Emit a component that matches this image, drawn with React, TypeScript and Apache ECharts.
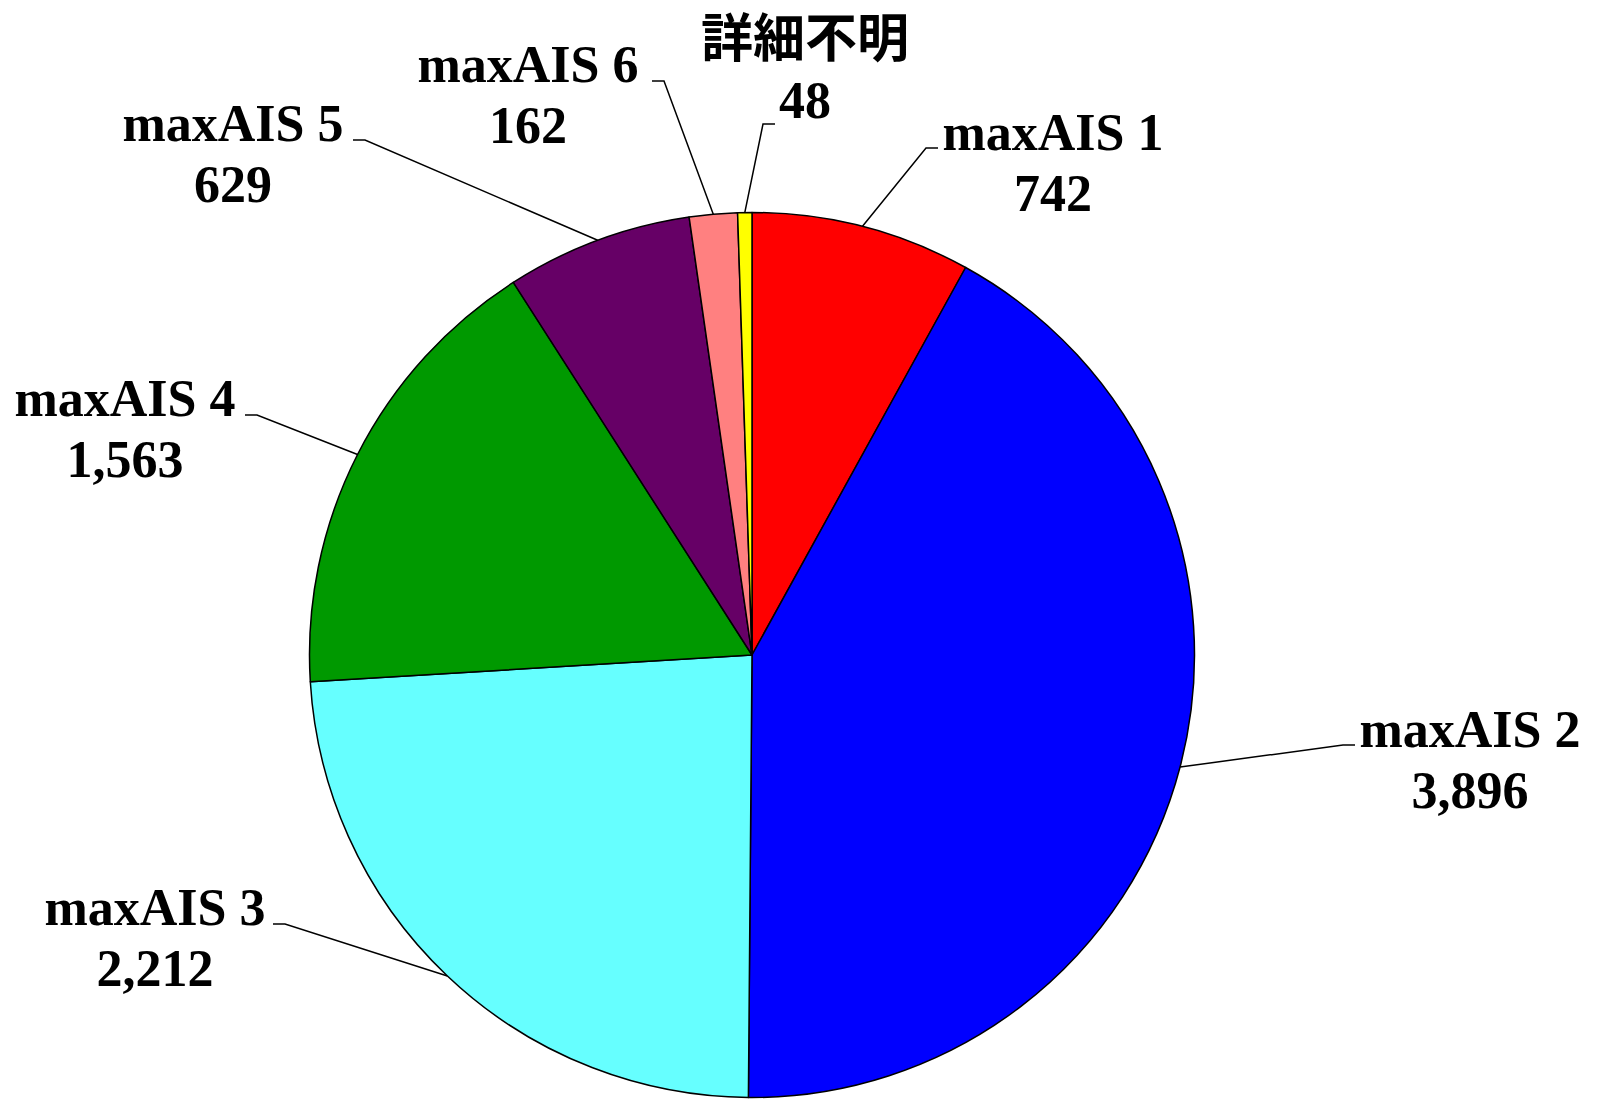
import React, { useEffect, useRef } from 'react';
import * as echarts from 'echarts';

const categories = ['maxAIS 1', 'maxAIS 2', 'maxAIS 3', 'maxAIS 4', 'maxAIS 5', 'maxAIS 6', '詳細不明'];
const values = [742, 3896, 2212, 1563, 629, 162, 48];
const sliceColors = ['#FF0000', '#0000FF', '#66FFFF', '#009900', '#660066', '#FF8080', '#FFFF00'];

// label layout (pixels): text centre x, block middle y, leader end point, side of the label relative to the elbow
const labelPos = [
  { x: 1053, y: 163, lx: 938, ly: 148, dir: 1 },
  { x: 1470, y: 760, lx: 1355, ly: 745, dir: 1 },
  { x: 155, y: 938, lx: 273, ly: 924, dir: -1 },
  { x: 125, y: 429, lx: 245, ly: 415, dir: -1 },
  { x: 233, y: 154, lx: 353, ly: 140, dir: -1 },
  { x: 528, y: 95, lx: 652, ly: 81, dir: -1 },
  { x: 805, y: 70, lx: 775, ly: 124, dir: 1 },
];

const CENTER = [752, 655];
const RADIUS = 442.5;

export default function App() {
  const ref = useRef<HTMLDivElement>(null);
  useEffect(() => {
    if (!ref.current) return;
    const chart = echarts.init(ref.current, undefined, { renderer: 'svg' });
    const total = values.reduce((a, b) => a + b, 0);
    const edgePoint = (i: number) => {
      let cum = 0;
      for (let k = 0; k < i; k++) cum += values[k];
      const mid = ((cum + values[i] / 2) / total) * Math.PI * 2;
      return [CENTER[0] + RADIUS * Math.sin(mid), CENTER[1] - RADIUS * Math.cos(mid)];
    };
    chart.setOption({
      animation: false,
      backgroundColor: '#ffffff',
      series: [
        {
          type: 'pie',
          center: CENTER,
          radius: [0, RADIUS],
          startAngle: 90,
          clockwise: true,
          avoidLabelOverlap: false,
          data: categories.map((name, i) => ({
            name,
            value: values[i],
            itemStyle: { color: sliceColors[i] },
          })),
          itemStyle: { borderColor: '#000000', borderWidth: 1.5 },
          emphasis: { disabled: true },
          label: {
            show: true,
            position: 'outside',
            formatter: (p: any) => `${p.name}\n${Number(p.value).toLocaleString('en-US')}`,
            fontFamily: "'Liberation Serif', 'Noto Sans CJK JP', serif",
            fontWeight: 'bold',
            fontSize: 52,
            lineHeight: 61,
            color: '#000000',
          },
          labelLine: {
            show: true,
            length: 20,
            length2: 12,
            smooth: false,
            lineStyle: { color: '#000000', width: 1.5 },
          },
          labelLayout: (params: any) => {
            const i = params.dataIndex;
            const lp = labelPos[i];
            const start =
              params.labelLinePoints && params.labelLinePoints[0]
                ? params.labelLinePoints[0]
                : edgePoint(i);
            return {
              x: lp.x,
              y: lp.y,
              align: 'center',
              verticalAlign: 'middle',
              labelLinePoints: [start, [lp.lx - lp.dir * 12, lp.ly], [lp.lx, lp.ly]],
            };
          },
        },
      ],
    });
    return () => chart.dispose();
  }, []);
  return (
    <div
      ref={ref}
      style={{ position: 'absolute', left: 0, top: 0, width: 1601, height: 1099, background: '#fff' }}
    />
  );
}
